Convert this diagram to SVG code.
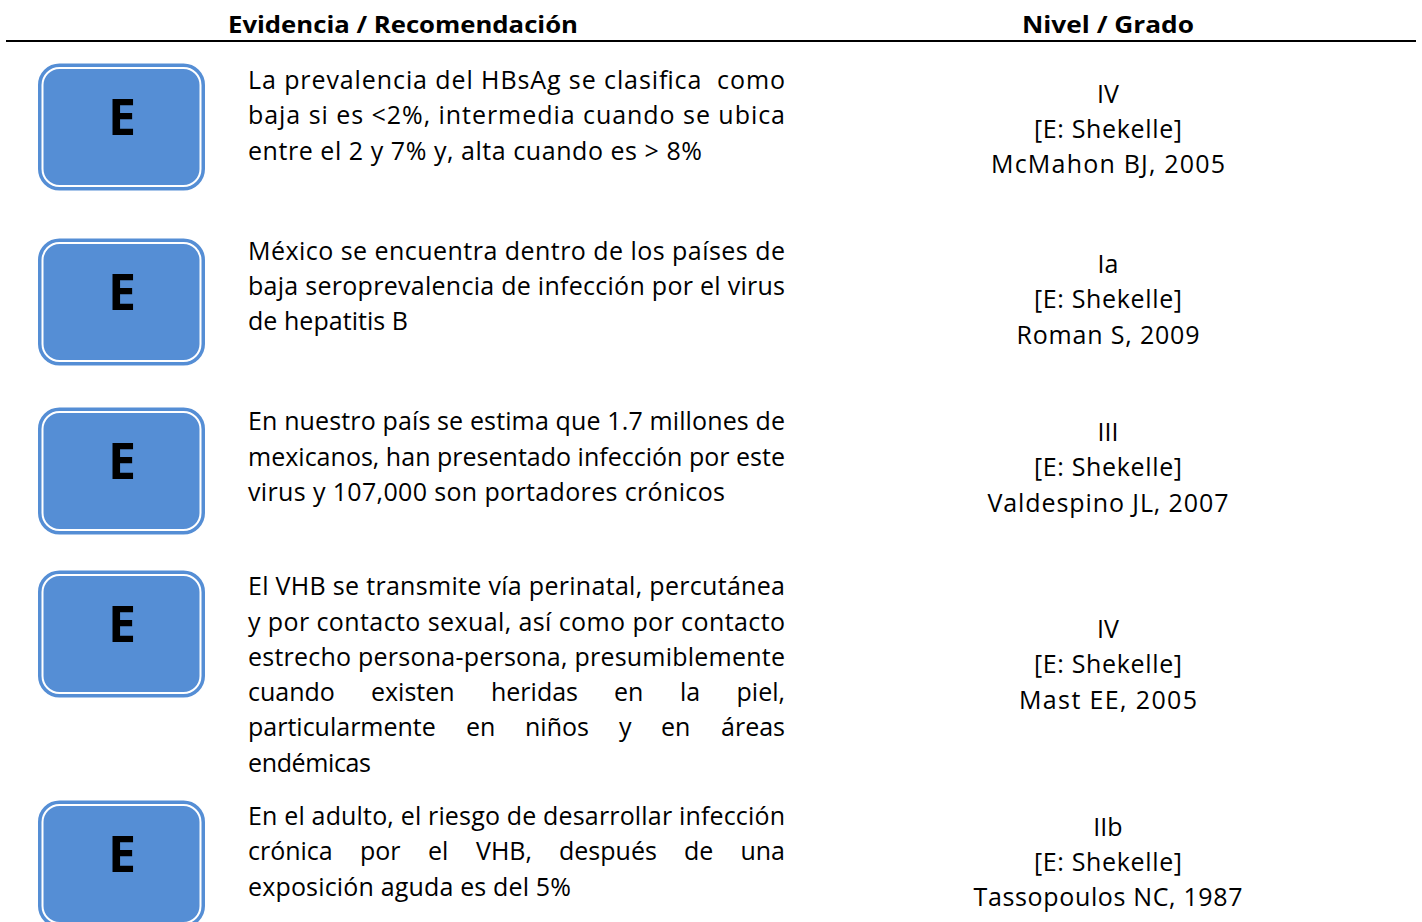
<svg xmlns="http://www.w3.org/2000/svg" width="1422" height="922" viewBox="0 0 1422 922">
<style>
.t{font-family:"Open Sans","Noto Sans",sans-serif;font-size:25px;fill:#000}
.h{font-family:"Open Sans","Noto Sans",sans-serif;font-size:24px;font-weight:bold;fill:#000}
.r{font-family:"Open Sans","Noto Sans",sans-serif;font-size:25px;fill:#000;text-anchor:middle}
.e{font-family:"Open Sans","Liberation Sans",sans-serif;font-size:50px;font-weight:bold;fill:#000;text-anchor:middle}
.bo{fill:#558ed5;stroke:#558ed5;stroke-width:3}
.bi{fill:none;stroke:#fff;stroke-width:2}
</style>
<defs>
<g id="box">
<rect class="bo" x="39.5" y="1.5" width="164" height="124" rx="20"/>
<rect class="bi" x="42.5" y="4.5" width="158" height="118" rx="17"/>
<text class="e" x="122" y="71">E</text>
</g>
</defs>
<rect width="1422" height="922" fill="#fff"/>
<g id="header">
<text class="h" x="228" y="33" textLength="350" lengthAdjust="spacingAndGlyphs">Evidencia / Recomendación</text>
<text class="h" x="1022" y="33" textLength="172" lengthAdjust="spacingAndGlyphs">Nivel / Grado</text>
<rect x="6" y="40" width="1410" height="2" fill="#000"/>
</g>
<g id="connectors"/>
<g id="row1">
<use href="#box" y="63.5"/>
<text class="t" x="248" y="89" textLength="537" lengthAdjust="spacing" style="white-space:pre">La prevalencia del HBsAg se clasifica  como</text>
<text class="t" x="248" y="124" textLength="537" lengthAdjust="spacing">baja si es &lt;2%, intermedia cuando se ubica</text>
<text class="t" x="248" y="160" textLength="454" lengthAdjust="spacing">entre el 2 y 7% y, alta cuando es &gt; 8%</text>
<text class="r" x="1108" y="103">IV</text>
<text class="r" x="1108" y="138" textLength="148" lengthAdjust="spacing">[E: Shekelle]</text>
<text class="r" x="1108" y="173" textLength="234" lengthAdjust="spacing">McMahon BJ, 2005</text>
</g>
<g id="row2">
<use href="#box" y="238.5"/>
<text class="t" x="248" y="260" textLength="537" lengthAdjust="spacing">México se encuentra dentro de los países de</text>
<text class="t" x="248" y="295" textLength="537" lengthAdjust="spacing">baja seroprevalencia de infección por el virus</text>
<text class="t" x="248" y="330" textLength="160" lengthAdjust="spacing">de hepatitis B</text>
<text class="r" x="1108" y="273">Ia</text>
<text class="r" x="1108" y="308" textLength="148" lengthAdjust="spacing">[E: Shekelle]</text>
<text class="r" x="1108" y="344" textLength="183" lengthAdjust="spacing">Roman S, 2009</text>
</g>
<g id="row3">
<use href="#box" y="407.5"/>
<text class="t" x="248" y="430" textLength="537" lengthAdjust="spacing">En nuestro país se estima que 1.7 millones de</text>
<text class="t" x="248" y="466" textLength="537" lengthAdjust="spacing">mexicanos, han presentado infección por este</text>
<text class="t" x="248" y="501" textLength="477" lengthAdjust="spacing">virus y 107,000 son portadores crónicos</text>
<text class="r" x="1108" y="441">III</text>
<text class="r" x="1108" y="476" textLength="148" lengthAdjust="spacing">[E: Shekelle]</text>
<text class="r" x="1108" y="512" textLength="241" lengthAdjust="spacing">Valdespino JL, 2007</text>
</g>
<g id="row4">
<use href="#box" y="570.5"/>
<text class="t" x="248" y="595" textLength="537" lengthAdjust="spacing">El VHB se transmite vía perinatal, percutánea</text>
<text class="t" x="248" y="631" textLength="537" lengthAdjust="spacing">y por contacto sexual, así como por contacto</text>
<text class="t" x="248" y="666" textLength="537" lengthAdjust="spacing">estrecho persona-persona, presumiblemente</text>
<text class="t" y="701"><tspan x="248">cuando</tspan><tspan x="371">existen</tspan><tspan x="491">heridas</tspan><tspan x="614">en</tspan><tspan x="680">la</tspan></text>
<text class="t" x="785" y="701" text-anchor="end">piel,</text>
<text class="t" y="736"><tspan x="248">particularmente</tspan><tspan x="466">en</tspan><tspan x="525">niños</tspan><tspan x="619">y</tspan><tspan x="661">en</tspan></text>
<text class="t" x="785" y="736" text-anchor="end">áreas</text>
<text class="t" x="248" y="772" textLength="123" lengthAdjust="spacing">endémicas</text>
<text class="r" x="1108" y="638">IV</text>
<text class="r" x="1108" y="673" textLength="148" lengthAdjust="spacing">[E: Shekelle]</text>
<text class="r" x="1108" y="709" textLength="178" lengthAdjust="spacing">Mast EE, 2005</text>
</g>
<g id="row5">
<use href="#box" y="800.5"/>
<text class="t" x="248" y="825" textLength="537" lengthAdjust="spacing">En el adulto, el riesgo de desarrollar infección</text>
<text class="t" y="860"><tspan x="248">crónica</tspan><tspan x="360">por</tspan><tspan x="428">el</tspan><tspan x="476">VHB,</tspan><tspan x="559">después</tspan><tspan x="684">de</tspan></text>
<text class="t" x="785" y="860" text-anchor="end">una</text>
<text class="t" x="248" y="896" textLength="323" lengthAdjust="spacing">exposición aguda es del 5%</text>
<text class="r" x="1108" y="836">IIb</text>
<text class="r" x="1108" y="871" textLength="148" lengthAdjust="spacing">[E: Shekelle]</text>
<text class="r" x="1108" y="906" textLength="269" lengthAdjust="spacing">Tassopoulos NC, 1987</text>
</g>
</svg>
